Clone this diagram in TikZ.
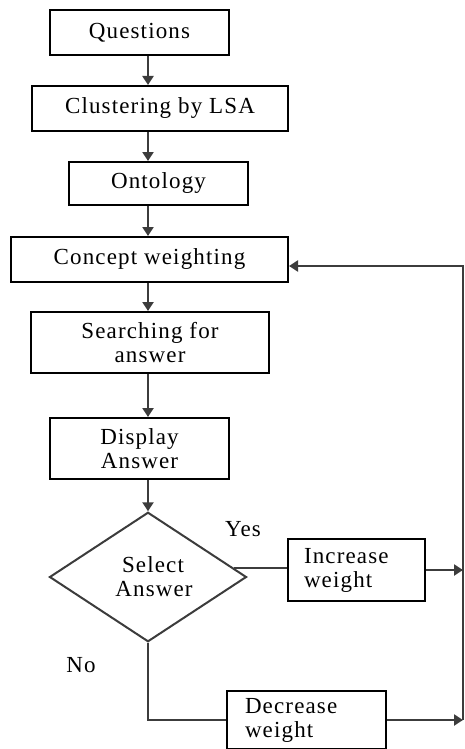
\documentclass[tikz,border=0pt]{standalone}
\usepackage{fontspec}
\setmainfont{Liberation Serif}[LetterSpace=5]
\usetikzlibrary{shapes.geometric,arrows.meta}

\definecolor{cline}{HTML}{3C3C3C}
\newcommand{\spinex}{148}
\newcommand{\loopx}{463}

\begin{document}
\begin{tikzpicture}[
    x=1pt, y=-1pt,
    every node/.style={font=\fontsize{23}{24}\selectfont},
    block/.style={draw=black, line width=2pt, inner sep=0pt, align=center},
    sidebox/.style={draw=black, line width=2pt, inner ysep=0pt, align=left},
    decision/.style={diamond, draw=cline, line width=2pt, inner sep=0pt, align=center},
    link/.style={draw=cline, line width=2.2pt},
    flow/.style={link, -{Triangle[width=11pt,length=9pt]}},
    lbl/.style={inner sep=0pt},
]

% Canvas
\useasboundingbox (0,0) rectangle (465,749);

% Main column
\node[block, minimum width=179pt, minimum height=45pt] (q)    at (139.5, 32.5)  {Questions};
\node[block, minimum width=256pt, minimum height=45pt] (clu)  at (160, 108.5)   {Clustering by LSA};
\node[block, minimum width=179pt, minimum height=43pt] (ont)  at (158.5, 183.5) {Ontology};
\node[block, minimum width=277pt, minimum height=45pt] (cw)   at (149.5, 259.5) {Concept weighting};
\node[block, minimum width=238pt, minimum height=61pt] (srch) at (150, 342.5)   {Searching for\\answer};
\node[block, minimum width=179pt, minimum height=61pt] (disp) at (139.5, 448.5) {Display\\Answer};
\node[decision, minimum width=197pt, minimum height=104pt] (sel) at (148, 577) {\hspace*{10pt}Select\\\hspace*{12pt}Answer};

% Side boxes
\node[sidebox, inner xsep=16pt, text width=105pt, minimum height=62pt] (inc) at (356.5, 570) {Increase\\weight};
\node[sidebox, inner xsep=18pt, text width=123pt, minimum height=58pt] (dec) at (306.5, 720) {Decrease\\weight};

% Labels
\node[lbl] (yes) at (243, 529) {Yes};
\node[lbl] (no)  at (81, 665)  {No};

% Helper coordinates
\coordinate (spine) at (\spinex, 0);
\coordinate (back)  at (\loopx, 266);

% Downward arrows
\draw[flow] (q.south -| spine)    -- (clu.north -| spine);
\draw[flow] (clu.south -| spine)  -- (ont.north -| spine);
\draw[flow] (ont.south -| spine)  -- (cw.north -| spine);
\draw[flow] (cw.south -| spine)   -- (srch.north -| spine);
\draw[flow] (srch.south -| spine) -- (disp.north -| spine);
\draw[flow] (disp.south -| spine) -- (sel.north);

% Yes / No branches
\draw[link] (sel.6) -- (inc.west |- sel.6);
\draw[link] (sel.south) |- (dec.west);

% Feedback loop
\draw[flow] (inc.east) -- (inc.east -| back);
\draw[flow] (dec.east) -- (dec.east -| back);
\draw[flow] (dec.east -| back) |- (cw.east |- back);

\end{tikzpicture}
\end{document}
